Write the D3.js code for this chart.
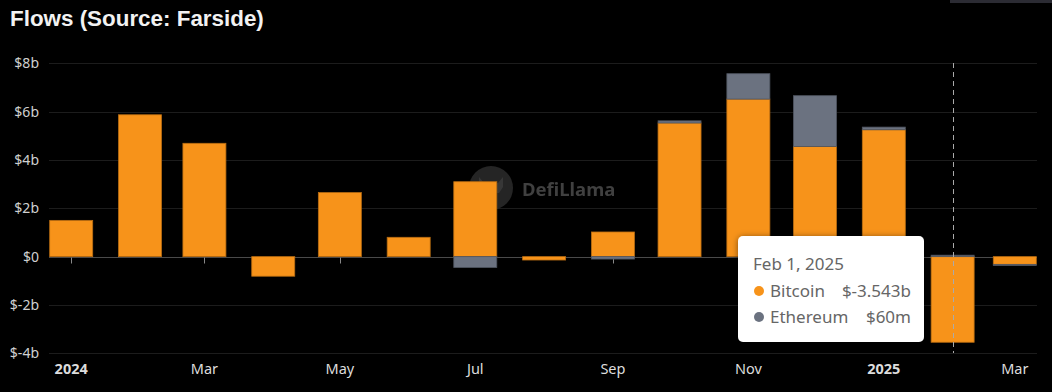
<!DOCTYPE html>
<html>
<head>
<meta charset="utf-8">
<script src="https://cdn.jsdelivr.net/npm/d3@7"></script>
<style>
  body { margin: 0; background: #000; }
  svg { display: block; }
</style>
</head>
<body>
<div id="chart"></div>
<script>
// monthly ETF flows, billions USD
var months = [
  "2024-01-01", "2024-02-01", "2024-03-01", "2024-04-01", "2024-05-01",
  "2024-06-01", "2024-07-01", "2024-08-01", "2024-09-01", "2024-10-01",
  "2024-11-01", "2024-12-01", "2025-01-01", "2025-02-01", "2025-03-01",
];
var bitcoin = [1.5, 5.87, 4.69, -0.81, 2.65, 0.8, 3.1, -0.14, 1.02, 5.53, 6.52, 4.56, 5.25, -3.543, -0.32];
var ethereum = [0, 0, 0, 0, 0, 0, -0.45, 0, -0.1, 0.09, 1.05, 2.1, 0.11, 0.06, -0.05];
var yTicks = [-4, -2, 0, 2, 4, 6, 8];
var xTicks = ["2024-01-01", "2024-03-01", "2024-05-01", "2024-07-01", "2024-09-01", "2024-11-01", "2025-01-01", "2025-03-01"];

const parse = d3.timeParse("%Y-%m-%d");
const width = 1052, height = 392;

const svg = d3
  .select("#chart")
  .append("svg")
  .attr("width", width)
  .attr("height", height);

svg.append("rect").attr("width", width).attr("height", height).attr("fill", "#000");

// strip of some page widget at top right
svg.append("rect").attr("x", 950).attr("y", 0).attr("width", 102).attr("height", 3).attr("fill", "#2b2b33");

svg
  .append("text")
  .attr("x", 10)
  .attr("y", 26)
  .attr("fill", "#f2f2f2")
  .attr("font-family", "Liberation Sans, Arial, sans-serif")
  .attr("font-weight", "bold")
  .attr("font-size", 22.4)
  .text("Flows (Source: Farside)");

const x = d3
  .scaleTime()
  .domain([parse("2023-12-22"), parse("2025-03-11")])
  .range([49, 1037]);

const y = d3.scaleLinear().domain([-4, 8]).range([353.3, 63.3]);

const barWidth = 43;

// gridlines
svg
  .append("g")
  .selectAll("line")
  .data(yTicks.filter((t) => t !== 0))
  .enter()
  .append("line")
  .attr("x1", 49)
  .attr("x2", 1037)
  .attr("y1", (d) => Math.round(y(d)) + 0.5)
  .attr("y2", (d) => Math.round(y(d)) + 0.5)
  .attr("stroke", "#1c1c1c")
  .attr("stroke-width", 1);

// watermark
const wm = svg.append("g").attr("opacity", 0.9);
wm.append("circle").attr("cx", 491).attr("cy", 188).attr("r", 22).attr("fill", "#2a2a2a");
wm.append("path")
  .attr("d", "M479,177 l5,6 h14 l5,-6 v10 l-4,6 h-16 l-4,-6 z")
  .attr("fill", "#3e3e3e");
wm.append("text")
  .attr("x", 522)
  .attr("y", 196)
  .attr("fill", "#474747")
  .attr("font-family", "Noto Sans, sans-serif")
  .attr("font-weight", "bold")
  .attr("font-size", 18.5)
  .text("DefiLlama");

// y labels
svg
  .append("g")
  .selectAll("text")
  .data(yTicks)
  .enter()
  .append("text")
  .attr("x", 39)
  .attr("y", (d) => y(d))
  .attr("dy", "0.35em")
  .attr("text-anchor", "end")
  .attr("fill", "#d0d0d0")
  .attr("font-family", "Noto Sans, sans-serif")
  .attr("font-size", 14)
  .text((d) => (d === 0 ? "$0" : "$" + d + "b"));

// stacked data: positives stack up, negatives stack down
const rows = months.map((m, i) => {
  let pos = 0, neg = 0;
  const segs = [];
  [["btc", bitcoin[i]], ["eth", ethereum[i]]].forEach(([key, v]) => {
    if (v >= 0) {
      segs.push({ key, y0: pos, y1: pos + v });
      pos += v;
    } else {
      segs.push({ key, y0: neg + v, y1: neg });
      neg += v;
    }
  });
  return { date: parse(m), segs };
});

const colors = { btc: "#f7931a", eth: "#6b7280" };
const edges = { btc: "#b96d12", eth: "#4f5560" };

// axis line at zero
const zeroY = Math.round(y(0)) + 0.5;
svg.append("line")
  .attr("x1", 49).attr("x2", 1037)
  .attr("y1", zeroY).attr("y2", zeroY)
  .attr("stroke", "#4a4a4a");

// tick marks
svg
  .append("g")
  .selectAll("line")
  .data(xTicks)
  .enter()
  .append("line")
  .attr("x1", (d) => Math.round(x(parse(d))) + 0.5)
  .attr("x2", (d) => Math.round(x(parse(d))) + 0.5)
  .attr("y1", zeroY)
  .attr("y2", zeroY + 6)
  .attr("stroke", "#888");

svg
  .append("g")
  .selectAll("g")
  .data(rows)
  .enter()
  .append("g")
  .selectAll("rect")
  .data((d) => d.segs.filter((s) => s.y1 - s.y0 > 0).map((s) => ({ ...s, date: d.date })))
  .enter()
  .append("rect")
  .attr("x", (d) => x(d.date) - barWidth / 2)
  .attr("width", barWidth)
  .attr("y", (d) => y(d.y1))
  .attr("height", (d) => Math.max(1, y(d.y0) - y(d.y1)))
  .attr("fill", (d) => colors[d.key])
  .attr("stroke", (d) => edges[d.key])
  .attr("stroke-width", 0.8);

// x labels
svg
  .append("g")
  .selectAll("text")
  .data(xTicks)
  .enter()
  .append("text")
  .attr("x", (d) => x(parse(d)))
  .attr("y", 374)
  .attr("text-anchor", "middle")
  .attr("fill", "#dcdcdc")
  .attr("font-family", "Noto Sans, sans-serif")
  .attr("font-size", 14.5)
  .attr("font-weight", (d) => (d.endsWith("01-01") ? "bold" : "normal"))
  .text((d) => {
    const dt = parse(d);
    return dt.getMonth() === 0 ? d3.timeFormat("%Y")(dt) : d3.timeFormat("%b")(dt);
  });

// hover pointer on Feb 2025
const hoverIdx = 13;
const hx = Math.round(x(rows[hoverIdx].date)) + 0.5;
svg.append("line")
  .attr("x1", hx).attr("x2", hx)
  .attr("y1", 63).attr("y2", 353)
  .attr("stroke", "#aaa")
  .attr("stroke-width", 1)
  .attr("stroke-dasharray", "5,4");

// tooltip
const defs = svg.append("defs");
const f = defs.append("filter").attr("id", "shadow").attr("x", "-20%").attr("y", "-20%").attr("width", "140%").attr("height", "140%");
f.append("feDropShadow").attr("dx", 0).attr("dy", 1).attr("stdDeviation", 3).attr("flood-color", "#000").attr("flood-opacity", 0.5);

const tip = svg.append("g").attr("transform", "translate(738,236)");
tip.append("rect")
  .attr("width", 186)
  .attr("height", 106)
  .attr("rx", 5)
  .attr("fill", "#fff")
  .attr("filter", "url(#shadow)");

const tipFont = "Noto Sans, sans-serif";
tip.append("text")
  .attr("x", 15).attr("y", 34)
  .attr("fill", "#666").attr("font-family", tipFont).attr("font-size", 17)
  .text(d3.timeFormat("%b %-d, %Y")(rows[hoverIdx].date));

const fmt = (v) => (Math.abs(v) >= 1 ? "$" + v + "b" : "$" + Math.round(v * 1000) + "m");
const tipRows = [
  { name: "Bitcoin", color: colors.btc, value: bitcoin[hoverIdx] },
  { name: "Ethereum", color: colors.eth, value: ethereum[hoverIdx] },
];
tipRows.forEach((r, i) => {
  const ty = 55 + i * 26;
  tip.append("circle").attr("cx", 21).attr("cy", ty).attr("r", 5).attr("fill", r.color);
  tip.append("text")
    .attr("x", 32).attr("y", ty + 6)
    .attr("fill", "#666").attr("font-family", tipFont).attr("font-size", 17)
    .text(r.name);
  tip.append("text")
    .attr("x", 173).attr("y", ty + 6)
    .attr("text-anchor", "end")
    .attr("fill", "#666").attr("font-family", tipFont).attr("font-size", 17)
    .text(fmt(r.value));
});
</script>
</body>
</html>
